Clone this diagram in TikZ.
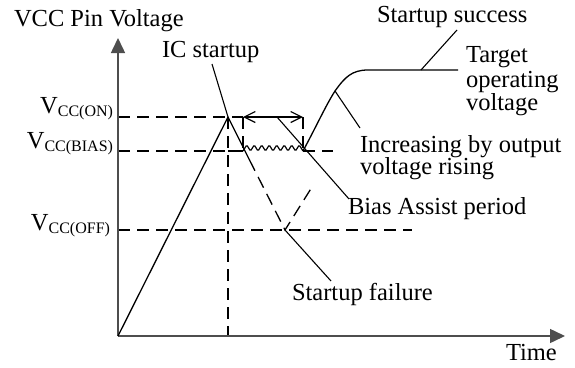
\documentclass[tikz,border=0pt]{standalone}
\usepackage{fontspec}
\setmainfont{Liberation Serif}
\usetikzlibrary{arrows.meta}
\definecolor{axisgray}{RGB}{78,78,78}
\begin{document}
\begin{tikzpicture}[x=1pt,y=-1pt,
  lbl/.style={inner sep=0pt, outer sep=0pt, font=\fontsize{24.5}{24.5}\selectfont, anchor=base west},
  vlbl/.style={inner sep=0pt, outer sep=0pt, font=\fontsize{24.5}{24.5}\selectfont, anchor=base east},
  curve/.style={line width=1.3pt, black, line join=round},
  guide/.style={line width=1.3pt, dash pattern=on 12pt off 7pt},
  leader/.style={line width=1.1pt},
  axis/.style={line width=1.5pt, draw=axisgray, -{Triangle[length=15pt,width=14pt,fill=axisgray]}},
  span/.style={line width=1.2pt, {Straight Barb[length=11pt,width=11pt]}-{Straight Barb[length=11pt,width=11pt]}}]
\newcommand{\sbs}[1]{\raisebox{-3.5pt}{\fontsize{16}{16}\selectfont #1}}
\useasboundingbox (0,0) rectangle (575,367);

% key points
\coordinate (O) at (118,336);
\coordinate (ytop) at (118,38);
\coordinate (xend) at (565,336);
\coordinate (peak) at (228,117);
\coordinate (peakB) at (228,151);
\coordinate (wA) at (243,151);
\coordinate (wB) at (303,151);
\coordinate (wAt) at (243,117);
\coordinate (wBt) at (303,117);
\coordinate (fallS) at (249.5,160);
\coordinate (fail) at (285,230);
\coordinate (failR) at (312,187);
\coordinate (bend) at (335,91);
\coordinate (flat) at (368,70);
\coordinate (flatE) at (458,70);
\coordinate (onL) at (118,117);
\coordinate (biasL) at (118,151);
\coordinate (biasR) at (333,151);
\coordinate (offL) at (118,230);
\coordinate (offR) at (412,230);
\coordinate (vbot) at (228,336);

% labels
\node[lbl] (ylab) at (14,26) {VCC Pin Voltage};
\node[lbl] (tlab) at (506,360) {Time};
\node[lbl] (ic) at (162,57) {IC startup};
\node[lbl] (succ) at (377,22) {Startup success};
\node[lbl] (tgt1) at (466,62) {Target};
\node[lbl] (tgt2) at (466,87) {operating};
\node[lbl] (tgt3) at (466,110) {voltage};
\node[lbl] (inc1) at (360,152) {Increasing by output};
\node[lbl] (inc2) at (360,174) {voltage rising};
\node[lbl] (bias) at (348,214) {Bias Assist period};
\node[lbl] (failt) at (292,300) {Startup failure};
\node[vlbl] (von) at (113,113) {V\sbs{CC(ON)}};
\node[vlbl] (vbias) at (113,148) {V\sbs{CC(BIAS)}};
\node[vlbl] (voff) at (110,230) {V\sbs{CC(OFF)}};

% guide lines
\draw[guide] (onL) -- (wAt);
\draw[guide] (biasL) -- (peakB);
\draw[guide] (wB) -- (biasR);
\draw[guide] (offL) -- (offR);
\draw[guide] (peak) -- (vbot);
\draw[guide] (wAt) -- (wA);
\draw[guide] (wBt) -- (wB);
\draw[guide] (fallS) -- (fail) -- (failR);

% axes
\draw[axis] (O) -- (ytop);
\draw[axis] (O) -- (xend);

% waveform
\draw[curve] (O) -- (peak) -- (fallS);
\draw[curve] (peakB) -- (wA);
\draw[line width=1.2pt, rounded corners=1.2pt] (wA)
  \foreach \i in {1,...,8} { -- ++(3.75,-6) -- ++(3.75,6) };
\draw[curve] (wB) .. controls (316,127) and (326,105) .. (bend)
  .. controls (345,77) and (352,70) .. (flat) -- (flatE);
\draw[span] (wAt) -- (wBt);

% leaders
\draw[leader] (212,64) -- (peak);
\draw[leader] (421,70) -- (457,30);
\draw[leader] (bend) -- (360,128);
\draw[leader] (277,117) -- (349,199);
\draw[leader] (fail) -- (331,281);
\end{tikzpicture}
\end{document}
